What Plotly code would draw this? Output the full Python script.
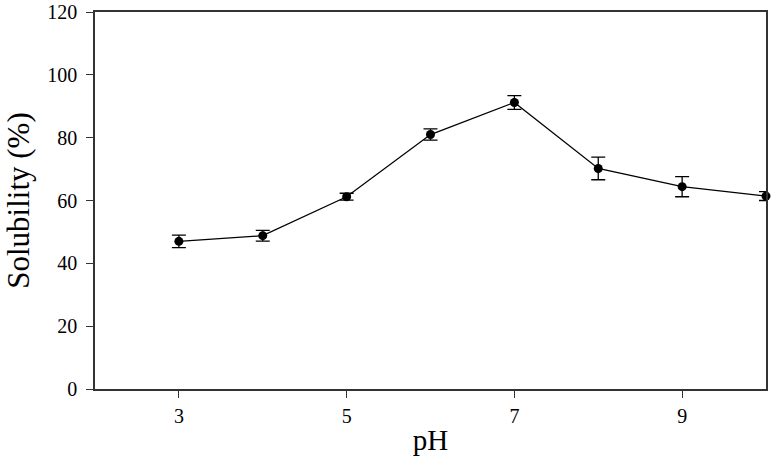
import plotly.graph_objects as go

ph = [3, 4, 5, 6, 7, 8, 9, 10]
solubility = [47.0, 48.8, 61.2, 81.0, 91.2, 70.2, 64.4, 61.4]
error = [2.0, 1.7, 1.1, 1.8, 2.2, 3.6, 3.2, 1.4]
x_ticks = [3, 5, 7, 9]
y_ticks = [0, 20, 40, 60, 80, 100, 120]

fig = go.Figure()
fig.add_trace(go.Scatter(
    x=ph, y=solubility,
    mode="lines+markers",
    line=dict(color="black", width=1.3),
    marker=dict(color="black", size=9),
    error_y=dict(type="data", array=error, visible=True, color="black", thickness=1.3, width=7),
    cliponaxis=False,
    showlegend=False,
))

fig.update_layout(
    width=774, height=464,
    margin=dict(l=95, r=8, t=12, b=75, autoexpand=False),
    plot_bgcolor="white", paper_bgcolor="white",
    xaxis=dict(
        range=[2, 10], tickvals=x_ticks, ticktext=[str(v) for v in x_ticks],
        showline=True, linecolor="#333", linewidth=1.5, mirror=True,
        ticks="outside", ticklen=7, tickcolor="#333", tickwidth=1.3,
        showgrid=False, zeroline=False, automargin=False,
        ticklabeloverflow="allow",
        tickfont=dict(family="Liberation Serif", size=20, color="black"),
        ticklabelstandoff=1,
        title=dict(text="pH", font=dict(family="Liberation Serif", size=29, color="black"), standoff=4),
    ),
    yaxis=dict(
        range=[0, 120], tickvals=y_ticks,
        showline=True, linecolor="#333", linewidth=1.5, mirror=True,
        ticks="outside", ticklen=7, tickcolor="#333", tickwidth=1.3,
        showgrid=False, zeroline=False, automargin=False,
        ticklabeloverflow="allow",
        tickfont=dict(family="Liberation Serif", size=20, color="black"),
        ticklabelstandoff=5,
        title=dict(text="Solubility (%)", font=dict(family="Liberation Serif", size=31, color="black"), standoff=8),
    ),
)

fig.write_html(
    "out.html",
    config={"displayModeBar": False},
    post_script="document.body.style.margin='0';document.body.style.overflow='hidden';",
)
